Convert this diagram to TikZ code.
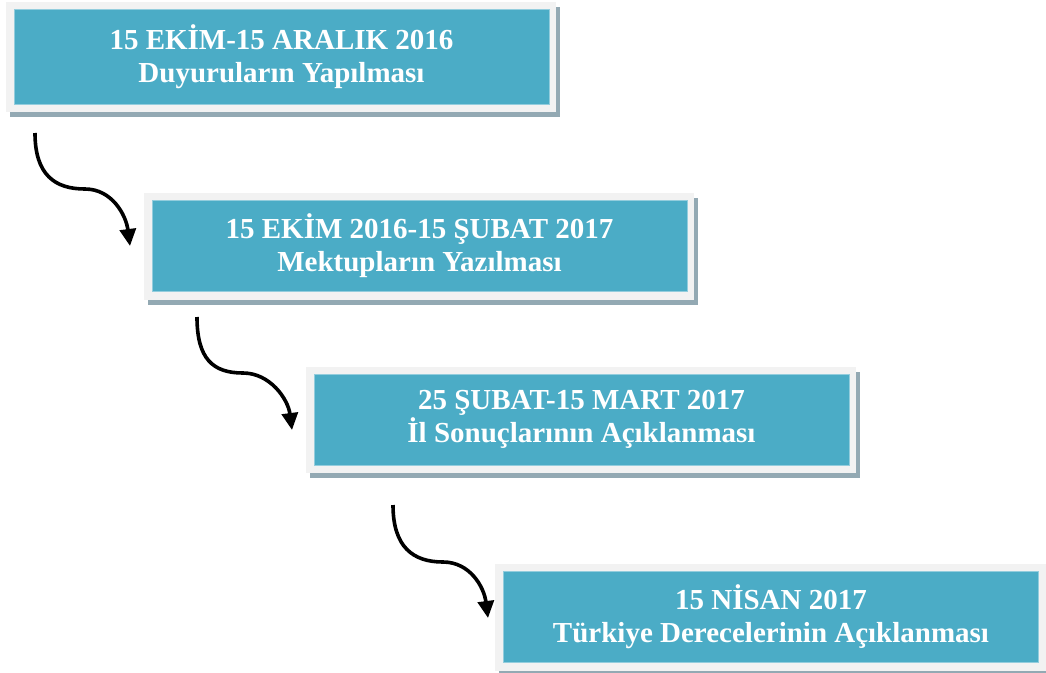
\documentclass[tikz,border=0pt]{standalone}
\usepackage{fontspec}
\setmainfont{Liberation Serif}
\usetikzlibrary{arrows.meta}
\definecolor{boxblue}{HTML}{4BACC6}
\definecolor{framegray}{HTML}{F2F2F2}
\definecolor{shadowgray}{HTML}{93A9B3}
\pgfdeclarelayer{bg}
\pgfsetlayers{bg,main}
\tikzset{
  stagebox/.style={fill=boxblue, draw=boxblue!60!white, line width=0.8pt, text=white,
    font=\bfseries\fontsize{29}{33}\selectfont, align=center,
    minimum width=535pt, inner sep=0pt},
  flow/.style={line width=3.6pt, -{Triangle[width=16pt,length=17pt]}},
}
\newcommand{\stageframe}[1]{%
  \begin{pgfonlayer}{bg}
    \fill[shadowgray] ([shift={(-4,-2)}]#1.north west) rectangle ([shift={(11,13)}]#1.south east);
    \fill[framegray] ([shift={(-8,-7)}]#1.north west) rectangle ([shift={(7,8)}]#1.south east);
  \end{pgfonlayer}}
\begin{document}
\begin{tikzpicture}[x=1pt,y=-1pt]
\useasboundingbox (0,0) rectangle (1046,672);
\node[stagebox, minimum height=95pt] (b1) at (281.5,56.5) {15 EKİM-15 ARALIK 2016\\Duyuruların Yapılması};
\node[stagebox, minimum height=91pt] (b2) at (419.5,246) {15 EKİM 2016-15 ŞUBAT 2017\\Mektupların Yazılması};
\node[stagebox, minimum height=91pt] (b3) at (581.5,419.5) {25 ŞUBAT-15 MART 2017\\İl Sonuçlarının Açıklanması};
\node[stagebox, minimum height=91pt] (b4) at (771,617) {15 NİSAN 2017\\Türkiye Derecelerinin Açıklanması};
\stageframe{b1}
\stageframe{b2}
\stageframe{b3}
\stageframe{b4}
\coordinate (s1) at (35,133);  \coordinate (m1) at (85,189);  \coordinate (e1) at (130,246);
\coordinate (s2) at (197,317); \coordinate (m2) at (243,373); \coordinate (e2) at (292,430);
\coordinate (s3) at (393,505); \coordinate (m3) at (443,562); \coordinate (e3) at (488,618);
\foreach \i in {1,2,3}{
  \draw[flow] (s\i) .. controls +(0,42) and +(-30,0) .. (m\i) .. controls +(27,0) and +(-4,-31) .. (e\i);
}
\end{tikzpicture}
\end{document}
